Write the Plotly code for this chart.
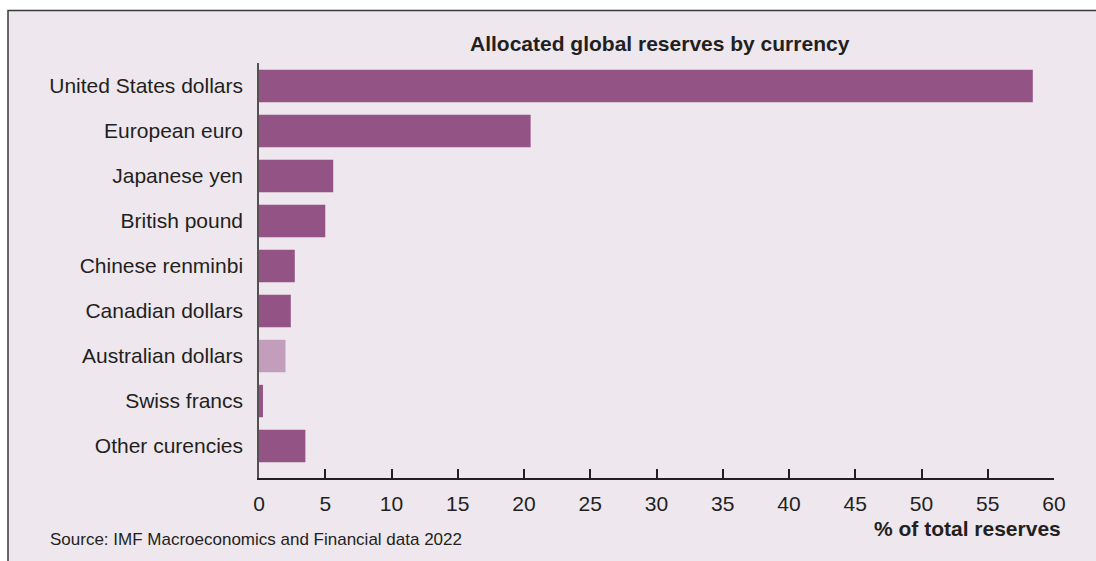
import plotly.graph_objects as go

currencies = ["United States dollars", "European euro", "Japanese yen", "British pound",
              "Chinese renminbi", "Canadian dollars", "Australian dollars", "Swiss francs",
              "Other curencies"]
shares = [58.4, 20.5, 5.6, 5.0, 2.7, 2.4, 2.0, 0.3, 3.5]
bar_colors = ["#935385"] * 9
bar_colors[6] = "#C39EBC"

tick_vals = [0, 5, 10, 15, 20, 25, 30, 35, 40, 45, 50, 55, 60]

W, H = 1096, 561
L, R, T, B = 259, 42, 63, 83
pw, ph = W - L - R, H - T - B

def px_x(p):
    return (p - L) / pw

def px_y(p):
    return (H - B - p) / ph

fig = go.Figure(go.Bar(
    y=currencies, x=shares, orientation="h",
    marker=dict(color=bar_colors, line=dict(width=0)),
    width=0.72,
))

font_family = "Liberation Sans, Arial, Helvetica, sans-serif"
dark = "#231F20"

fig.update_layout(
    width=W, height=H,
    margin=dict(l=L, r=R, t=T, b=B),
    paper_bgcolor="white",
    plot_bgcolor="rgba(0,0,0,0)",
    showlegend=False,
    font=dict(family=font_family, color=dark, size=21),
    xaxis=dict(
        range=[0, 60], tickvals=tick_vals, ticks="inside", ticklen=9, tickwidth=2,
        tickcolor=dark, showline=True, linecolor=dark, linewidth=2,
        showgrid=False, zeroline=False, tickfont=dict(size=21, color=dark),
        ticklabelstandoff=6,
    ),
    yaxis=dict(
        type="category", range=[8.71, -0.51], showline=True, linecolor="#555052",
        linewidth=1.5, showgrid=False, zeroline=False, ticks="",
        tickfont=dict(size=21, color=dark), ticklabelstandoff=10,
    ),
    shapes=[
        dict(type="rect", xref="paper", yref="paper",
             x0=px_x(8), x1=px_x(1200), y0=px_y(700), y1=px_y(10.5),
             fillcolor="#EEE7EE", line=dict(color="#3a3a3a", width=1.5), layer="below"),
    ],
    annotations=[
        dict(text="<b>Allocated global reserves by currency</b>", xref="paper", yref="paper",
             x=px_x(660), y=px_y(43), xanchor="center", yanchor="middle", showarrow=False,
             font=dict(size=21, color=dark)),
        dict(text="<b>% of total reserves</b>", xref="paper", yref="paper",
             x=px_x(1063), y=px_y(528), xanchor="right", yanchor="middle", showarrow=False,
             font=dict(size=21, color=dark)),
        dict(text="Source: IMF Macroeconomics and Financial data 2022", xref="paper", yref="paper",
             x=px_x(48), y=px_y(539), xanchor="left", yanchor="middle", showarrow=False,
             font=dict(size=17, color=dark)),
    ],
)

fig.write_html("out.html")
